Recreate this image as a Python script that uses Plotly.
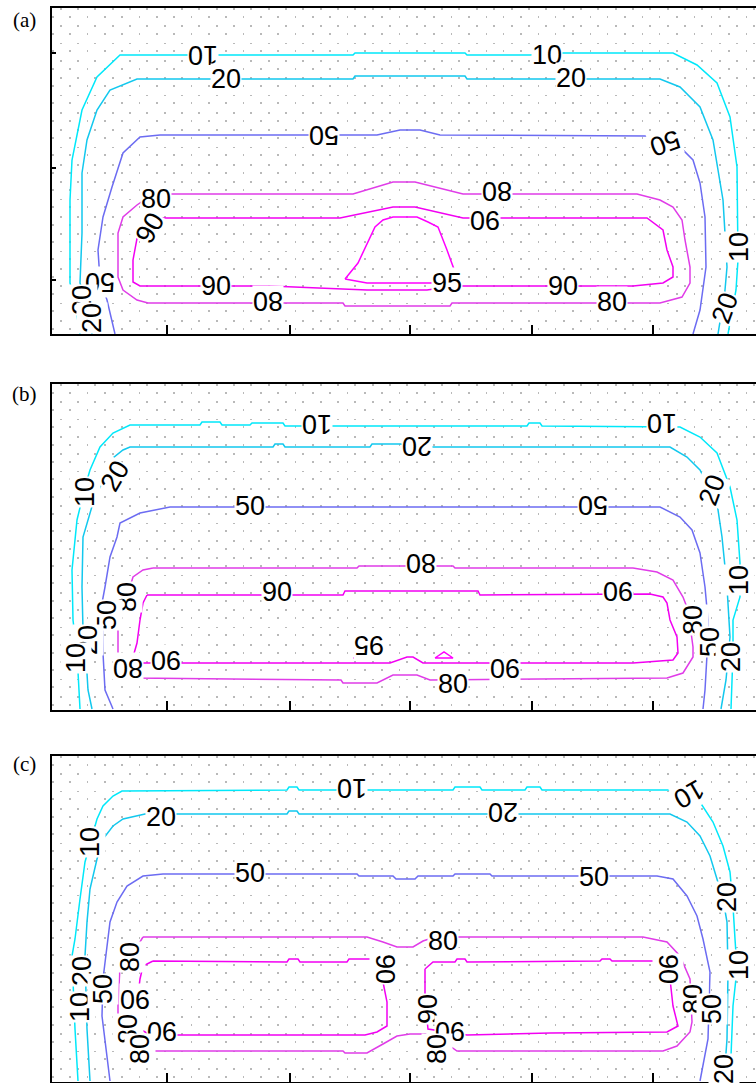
import plotly.graph_objects as go

# ---------------- data (x: grid units from left frame, y: depth units from top frame) ----------------
XTICKS = [115, 238, 358, 480, 601]
YTICKS_A = [45, 160, 272]

A_10 = [(28,326),(24,302),(18,275),(18,192),(20,152),(30,102),(45,69),(68,47),(301,47),(303,45),(413,45),(415,47),(478,47),(511,45),(621,45),(645,57),(665,75),(678,109),(685,159),(686,225),(686,252),(684,282),(676,326)]
A_20 = [(40,326),(36,302),(28,275),(30,225),(30,165),(35,132),(45,102),(58,82),(85,71),(301,71),(303,68),(413,68),(415,71),(608,71),(628,79),(648,99),(661,132),(671,192),(675,259),(673,282),(666,326)]
A_50 = [(63,326),(55,292),(48,272),(46,242),(51,209),(60,179),(71,145),(88,129),(108,127),(325,127),(348,122),(368,122),(388,127),(595,128),(631,142),(641,152),(648,175),(653,209),(654,259),(648,302),(641,326)]
A_80 = [(118,186),(301,186),(341,174),(363,174),(411,186),(585,186),(608,192),(621,199),(630,212),(633,232),(638,259),(638,275),(630,289),(608,295),(400,295),(398,298),(293,298),(291,295),(96,295),(85,292),(71,282),(66,269),(66,225),(71,209),(85,197),(98,188),(118,186)]
A_90 = [(111,210),(288,210),(341,199),(363,199),(411,210),(595,210),(611,222),(615,242),(621,259),(621,269),(611,275),(581,278),(403,278),(375,282),(315,282),(218,278),(88,278),(81,274),(81,252),(86,225),(98,212),(111,210)]
A_95 = [(293,271),(306,255),(323,219),(331,212),(341,209),(365,209),(376,214),(386,219),(395,242),(403,264),(403,275),(315,275),(293,271)]

B_10 = [(28,325),(25,269),(21,236),(20,186),(25,136),(33,103),(38,86),(48,63),(61,49),(78,41),(148,41),(150,38),(168,38),(170,41),(198,41),(200,39),(231,39),(233,42),(475,42),(477,39),(488,39),(490,42),(628,43),(648,53),(665,69),(678,103),(685,136),(688,179),(688,213),(681,236),(681,269),(679,325)]
B_20 = [(40,325),(36,306),(33,256),(31,246),(30,203),(31,153),(41,119),(53,91),(61,74),(71,66),(78,63),(221,63),(223,60),(231,60),(233,63),(318,63),(320,60),(348,60),(381,63),(618,63),(635,73),(648,86),(665,119),(670,153),(675,203),(678,253),(674,296),(669,325)]
B_50 = [(61,325),(53,306),(51,269),(50,219),(53,203),(58,173),(65,153),(68,139),(88,129),(118,123),(608,123),(628,133),(640,146),(648,169),(653,203),(656,236),(655,271),(653,306),(651,325)]
B_80 = [(101,184),(305,184),(307,182),(401,182),(403,184),(581,184),(605,188),(621,196),(631,213),(636,226),(641,263),(641,273),(631,289),(615,294),(378,296),(365,291),(341,291),(325,299),(291,299),(289,296),(81,294),(71,286),(66,269),(66,226),(78,203),(81,193),(91,186),(101,184)]
B_90 = [(95,211),(291,211),(293,207),(426,207),(428,211),(598,210),(611,213),(615,219),(618,236),(625,253),(626,269),(621,276),(581,279),(371,279),(361,273),(355,273),(338,279),(88,279),(81,273),(85,259),(88,236),(91,219),(95,211)]
B_95_1 = [(301,274),(328,274)]
B_95_2 = [(383,274),(392,268),(401,274),(383,274)]

C_10 = [(26,325),(23,273),(20,200),(23,183),(28,143),(33,106),(45,63),(51,50),(61,40),(70,35),(235,34),(237,31),(245,31),(247,34),(401,34),(403,31),(428,31),(430,34),(473,34),(475,31),(488,31),(490,34),(625,34),(648,46),(661,66),(671,90),(678,116),(681,150),(683,183),(685,213),(681,250),(678,325)]
C_20 = [(38,325),(35,273),(33,200),(35,166),(38,133),(45,103),(51,83),(61,70),(71,63),(85,60),(93,58),(235,58),(237,55),(245,55),(247,58),(618,58),(635,66),(648,80),(658,100),(671,143),(675,166),(676,216),(675,283),(672,325)]
C_50 = [(58,325),(55,300),(50,260),(51,223),(55,190),(58,166),(65,146),(75,130),(91,120),(111,118),(305,118),(307,120),(341,120),(344,123),(363,123),(366,120),(401,120),(403,118),(438,118),(440,120),(605,120),(621,123),(635,140),(645,160),(651,183),(658,216),(656,283),(648,325)]
C_80 = [(91,181),(315,181),(331,186),(345,191),(361,191),(371,185),(383,181),(591,181),(615,186),(628,200),(638,223),(640,266),(638,276),(625,290),(611,295),(405,295),(388,283),(373,278),(358,278),(345,280),(331,288),(315,297),(293,297),(291,295),(81,295),(66,273),(66,250),(68,210),(78,193),(88,186),(91,181)]
C_90_L = [(101,205),(235,206),(237,203),(246,203),(248,206),(295,206),(297,203),(321,203),(331,226),(335,246),(335,270),(325,276),(313,279),(98,279),(88,273),(86,266),(86,240),(88,223),(91,210),(101,205)]
C_90_R = [(373,213),(381,206),(403,206),(405,203),(413,203),(415,206),(548,205),(550,203),(558,203),(560,205),(601,205),(613,211),(618,223),(621,250),(626,270),(615,276),(498,277),(415,279),(376,273),(373,243),(373,213)]

A_LABELS = [("10",151,47),("20",174,71),("50",272,127),("50",613,135),("80",104,191),("90",98,220),("90",164,278),("80",216,293),("90",433,212),("80",445,183),("95",395,275),("90",511,278),("80",560,294),("10",495,47),("20",519,70),("10",687,239),("20",673,300),("50",48,274),("20",30,292),("20",40,310)]
A_ANGLES = [180,0,180,160,0,-60,0,180,180,180,0,0,0,0,0,-90,-70,180,-90,-90]

B_LABELS = [("10",265,40),("20",365,62),("10",610,39),("20",660,106),("50",541,121),("50",198,122),("80",369,179),("90",225,208),("90",566,207),("95",317,261),("90",453,284),("80",401,300),("10",33,108),("20",63,92),("80",75,213),("50",55,231),("20",36,256),("10",24,274),("80",76,284),("90",114,276),("10",687,196),("80",641,236),("50",658,258),("20",679,273)]
B_ANGLES = [180,180,180,-70,180,0,180,0,180,180,180,0,-90,-60,-90,-90,-90,-90,180,180,-90,-90,-90,-90]

C_LABELS = [("10",300,32),("20",451,56),("20",109,61),("10",637,38),("50",198,117),("50",542,121),("10",38,86),("20",675,141),("10",687,209),("20",672,313),("80",391,185),("90",333,213),("90",376,253),("90",398,275),("80",385,293),("90",616,213),("80",641,243),("50",660,253),("20",30,215),("10",28,251),("50",51,233),("80",78,201),("90",83,243),("80",76,273),("90",110,275),("80",88,293)]
C_ANGLES = [180,180,0,150,0,0,-90,-90,-90,-90,0,90,-90,180,-90,90,-90,-90,-90,-90,-90,-90,180,-90,180,-90]

PANEL_NAMES = ["(a)", "(b)", "(c)"]

# ---------------- styles / layout ----------------
COLORS = {10: "#00E8FA", 20: "#12C8EE", 50: "#6C6CF2", 80: "#E03CE8", 90: "#F200F2", 95: "#FF00FF"}
FIG_W, FIG_H = 756, 1083
LEFT_PX = 52
PANEL_TOPS = [8, 384, 756]
PANEL_LABEL_Y = [20, 394, 764]
PANEL_LABEL_X = 24
PANEL_H = 326
X_SPAN = FIG_W - LEFT_PX
DOT_STEP = 17.34
DOT_COLOR = "#b9b9b9"
DOT_DASH = "1.5px,15.84px"

panels = [
    ([(10, [A_10]), (20, [A_20]), (50, [A_50]), (80, [A_80]), (90, [A_90]), (95, [A_95])], A_LABELS, A_ANGLES),
    ([(10, [B_10]), (20, [B_20]), (50, [B_50]), (80, [B_80]), (90, [B_90]), (95, [B_95_1, B_95_2])], B_LABELS, B_ANGLES),
    ([(10, [C_10]), (20, [C_20]), (50, [C_50]), (80, [C_80]), (90, [C_90_L, C_90_R])], C_LABELS, C_ANGLES),
]

fig = go.Figure()
layout_axes = {}
for i, (contours, labels, angles) in enumerate(panels):
    sfx = "" if i == 0 else str(i + 1)
    xa, ya = "x" + sfx, "y" + sfx
    for level, segs in contours:
        for seg in segs:
            fig.add_trace(go.Scatter(
                x=[p[0] for p in seg], y=[p[1] for p in seg], mode="lines",
                line=dict(color=COLORS[level], width=1.5),
                xaxis=xa, yaxis=ya, hoverinfo="skip", showlegend=False))
    for (t, lx, ly), ang in zip(labels, angles):
        fig.add_annotation(text=t, x=lx, y=ly, xref=xa, yref=ya, showarrow=False,
                           textangle=ang, bgcolor="white", borderpad=0,
                           font=dict(family="Liberation Sans", size=27, color="black"))
    top = PANEL_TOPS[i]
    bottom = min(top + PANEL_H, FIG_H - 1)
    layout_axes["xaxis" + sfx] = dict(
        domain=[LEFT_PX / FIG_W, 1], range=[0, X_SPAN], anchor=ya,
        showline=True, linewidth=2, linecolor="black", mirror=True,
        ticks="inside", ticklen=9, tickwidth=2, tickcolor="black",
        tickvals=XTICKS, showticklabels=False, showgrid=False, zeroline=False,
        minor=dict(tick0=DOT_STEP / 2, dtick=DOT_STEP, showgrid=True, gridcolor=DOT_COLOR,
                   gridwidth=1.5, griddash=DOT_DASH, ticks=""))
    layout_axes["yaxis" + sfx] = dict(
        domain=[1 - bottom / FIG_H, 1 - top / FIG_H], range=[bottom - top, 0], anchor=xa,
        showline=True, linewidth=2, linecolor="black", mirror=False,
        ticks="inside" if i == 0 else "", ticklen=4, tickwidth=2, tickcolor="black",
        tickvals=YTICKS_A if i == 0 else [], showticklabels=False,
        showgrid=False, zeroline=False,
        minor=dict(tick0=DOT_STEP / 2, dtick=DOT_STEP, showgrid=True, gridcolor=DOT_COLOR,
                   gridwidth=1.5, griddash=DOT_DASH, ticks=""))
    fig.add_annotation(text=PANEL_NAMES[i], x=PANEL_LABEL_X / FIG_W, y=1 - PANEL_LABEL_Y[i] / FIG_H,
                       xref="paper", yref="paper", xanchor="center", yanchor="middle",
                       showarrow=False,
                       font=dict(family="Liberation Serif", size=21, color="black"))

fig.update_layout(width=FIG_W, height=FIG_H, margin=dict(l=0, r=0, t=0, b=0),
                  paper_bgcolor="white", plot_bgcolor="white", **layout_axes)
fig.write_html("out.html")
